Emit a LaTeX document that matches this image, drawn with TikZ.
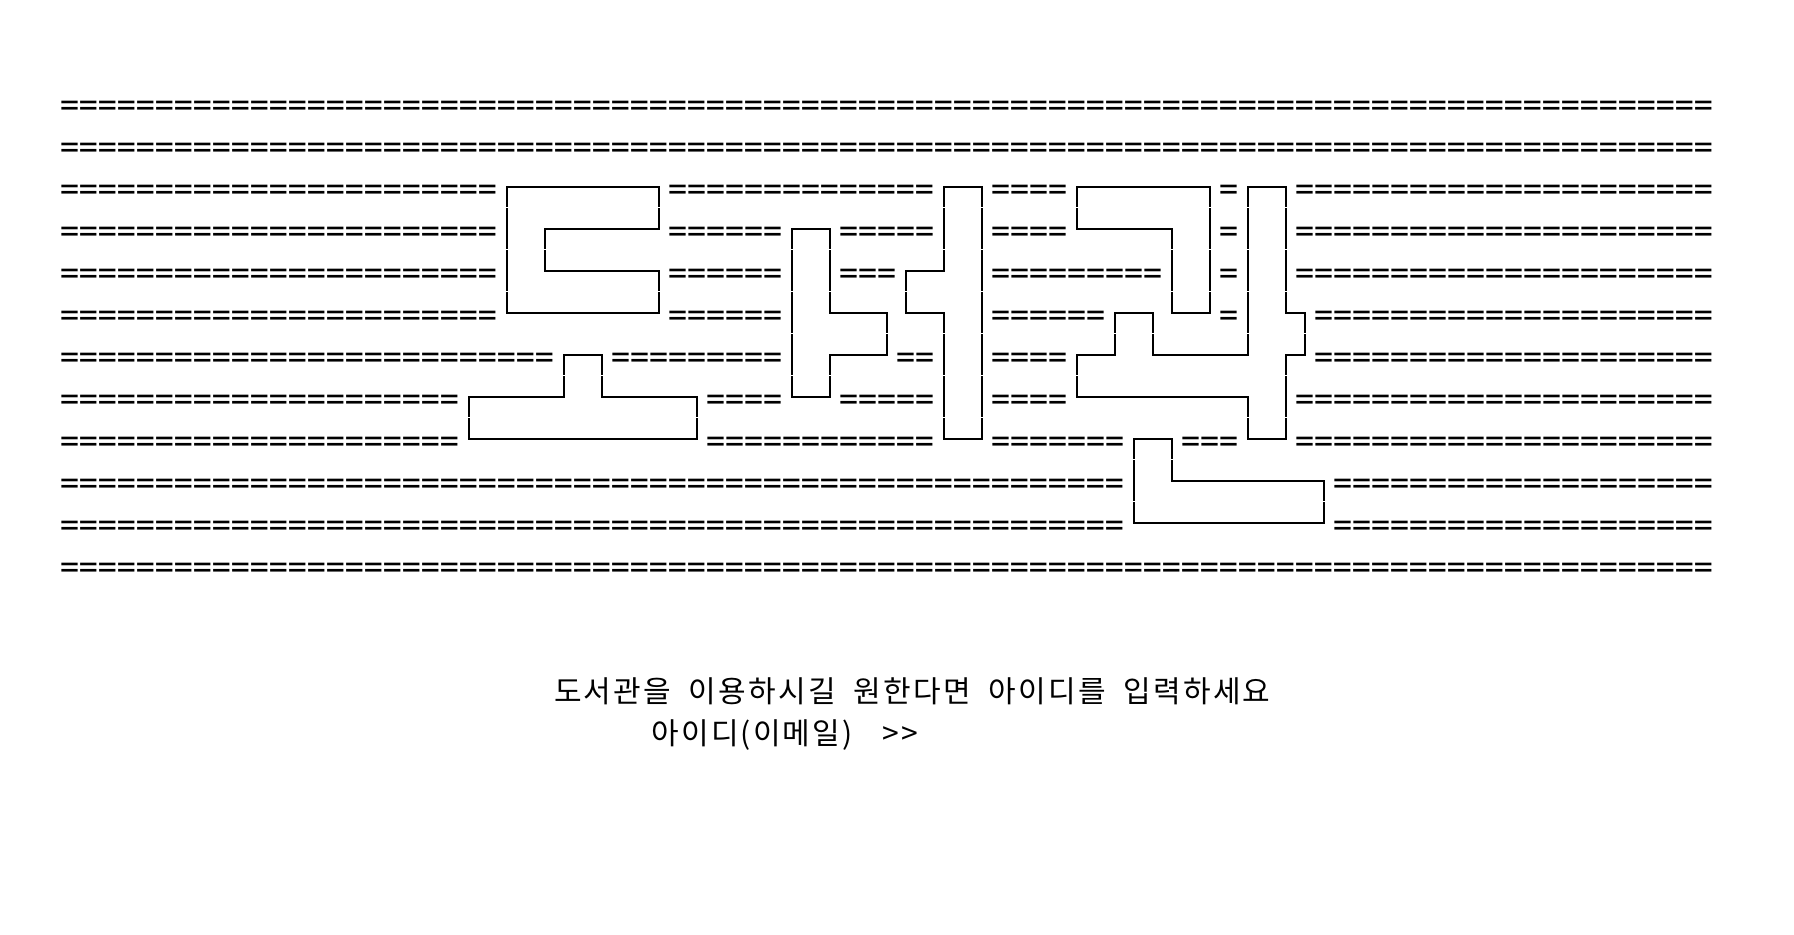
\documentclass[tikz,border=0pt]{standalone}
\usepackage{fontspec}
\newfontfamily\monofnt{DejaVu Sans Mono}
\newfontfamily\krfnt[LetterSpace=7.3]{Noto Sans CJK KR}
\newcommand\myrep[1]{\ifnum#1>0 =\expandafter\myrep\expandafter{\the\numexpr#1-1\relax}\fi}
\tikzset{
  eqtxt/.style={anchor=west, inner sep=0pt, outer sep=0pt,
    font=\monofnt\fontsize{15.78pt}{15.78pt}\selectfont},
  glyphline/.style={draw=black, line width=1pt, line join=miter},
  rowgap/.style={draw=white, line width=0.5pt},
  msg/.style={anchor=base west, inner sep=0pt, outer sep=0pt,
    font=\krfnt\fontsize{15pt}{15pt}\selectfont}
}
\newcommand\eqrun[3]{\node[eqtxt] (eq-#1-#2) at ({60+19*#2},{108+42*#1}) {\myrep{\numexpr#3-#2+1\relax}};}
\begin{document}
\begin{tikzpicture}[x=0.5pt,y=-0.5pt]
\fill[white] (0,0) rectangle (1794,934);
\useasboundingbox (0,0) rectangle (1794,934);
% rows of '='
\eqrun{0}{0}{86}
\eqrun{1}{0}{86}
\eqrun{2}{0}{22}\eqrun{2}{32}{45}\eqrun{2}{49}{52}\eqrun{2}{61}{61}\eqrun{2}{65}{86}
\eqrun{3}{0}{22}\eqrun{3}{32}{37}\eqrun{3}{41}{45}\eqrun{3}{49}{52}\eqrun{3}{61}{61}\eqrun{3}{65}{86}
\eqrun{4}{0}{22}\eqrun{4}{32}{37}\eqrun{4}{41}{43}\eqrun{4}{49}{57}\eqrun{4}{61}{61}\eqrun{4}{65}{86}
\eqrun{5}{0}{22}\eqrun{5}{32}{37}\eqrun{5}{49}{54}\eqrun{5}{61}{61}\eqrun{5}{66}{86}
\eqrun{6}{0}{25}\eqrun{6}{29}{37}\eqrun{6}{44}{45}\eqrun{6}{49}{52}\eqrun{6}{66}{86}
\eqrun{7}{0}{20}\eqrun{7}{34}{37}\eqrun{7}{41}{45}\eqrun{7}{49}{52}\eqrun{7}{65}{86}
\eqrun{8}{0}{20}\eqrun{8}{34}{45}\eqrun{8}{49}{55}\eqrun{8}{59}{61}\eqrun{8}{65}{86}
\eqrun{9}{0}{55}\eqrun{9}{67}{86}
\eqrun{10}{0}{55}\eqrun{10}{67}{86}
\eqrun{11}{0}{86}
% box-drawn letters
\begin{scope}[shift={(69.5,102.5)}, x=9.5pt, y=-21pt]
  % do: upper part
  \draw[glyphline] (23,2)--(31,2)--(31,3)--(25,3)--(25,4)--(31,4)--(31,5)--(23,5)--cycle;
  % do: lower part
  \draw[glyphline] (26,6)--(28,6)--(28,7)--(33,7)--(33,8)--(21,8)--(21,7)--(26,7)--cycle;
  % seo: left stroke
  \draw[glyphline] (38,3)--(40,3)--(40,5)--(43,5)--(43,6)--(40,6)--(40,7)--(38,7)--cycle;
  % seo: right stroke
  \draw[glyphline] (46,2)--(48,2)--(48,8)--(46,8)--(46,5)--(44,5)--(44,4)--(46,4)--cycle;
  % gwan: giyeok
  \draw[glyphline] (53,2)--(60,2)--(60,5)--(58,5)--(58,3)--(53,3)--cycle;
  % gwan: vowel
  \draw[glyphline] (62,2)--(64,2)--(64,5)--(65,5)--(65,6)--(64,6)--(64,8)--(62,8)--(62,7)--(53,7)--(53,6)--(55,6)--(55,5)--(57,5)--(57,6)--(62,6)--cycle;
  % gwan: nieun
  \draw[glyphline] (56,8)--(58,8)--(58,9)--(66,9)--(66,10)--(56,10)--cycle;
\end{scope}
% tiny row gaps in vertical strokes
\foreach \r in {2,...,9} {\draw[rowgap] (400,{123+42*\r}) -- (1400,{123+42*\r});}
% message lines
\node[msg] (line1) at (554,702) {\spaceskip=9pt\relax 도서관을 이용하시길 원한다면 아이디를 입력하세요};
\node[msg] (line2) at (651.5,744) {\spaceskip=14.8pt\relax 아이디(이메일) >>};
\end{tikzpicture}
\end{document}
